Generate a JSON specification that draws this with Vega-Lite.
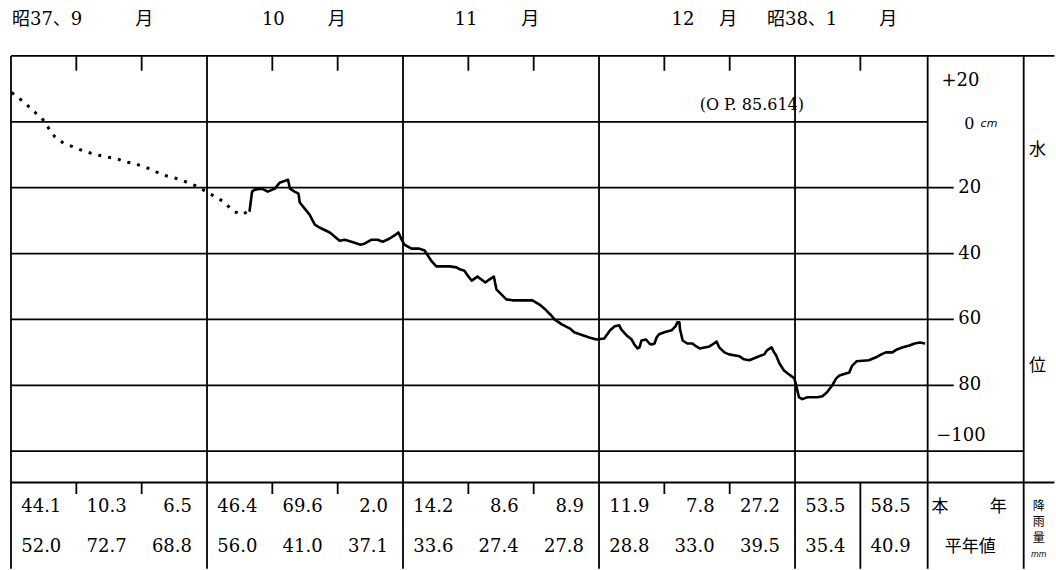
{
  "$schema": "https://vega.github.io/schema/vega-lite/v6.json",
  "width": 1056,
  "height": 570,
  "padding": 0,
  "autosize": {"type": "fit", "contains": "padding"},
  "background": "white",
  "config": {"view": {"stroke": null}},
  "datasets": {
    "hlines": [
      {"t": 0, "t2": 159.7, "v": -20},
      {"t": 0, "t2": 140.3, "v": 0},
      {"t": 0, "t2": 144.3, "v": 20},
      {"t": 0, "t2": 144.3, "v": 40},
      {"t": 0, "t2": 144.3, "v": 60},
      {"t": 0, "t2": 144.3, "v": 80},
      {"t": 0, "t2": 155, "v": 100},
      {"t": 0, "t2": 159.7, "v": 109.5}
    ],
    "vlines": [
      {"t": 0, "v": -20, "v2": 135.7},
      {"t": 30, "v": -20, "v2": 135.7},
      {"t": 60, "v": -20, "v2": 135.7},
      {"t": 90, "v": -20, "v2": 135.7},
      {"t": 120, "v": -20, "v2": 135.7},
      {"t": 140.3, "v": -20, "v2": 135.7},
      {"t": 155, "v": -20, "v2": 135.7},
      {"t": 130, "v": 109.5, "v2": 135.7}
    ],
    "ticks": [
      {"t": 10, "v": -20, "v2": -15.5},
      {"t": 20, "v": -20, "v2": -15.5},
      {"t": 40, "v": -20, "v2": -15.5},
      {"t": 50, "v": -20, "v2": -15.5},
      {"t": 70, "v": -20, "v2": -15.5},
      {"t": 80, "v": -20, "v2": -15.5},
      {"t": 100, "v": -20, "v2": -15.5},
      {"t": 110, "v": -20, "v2": -15.5},
      {"t": 130, "v": -20, "v2": -15.5},
      {"t": 10, "v": 109.5, "v2": 113},
      {"t": 20, "v": 109.5, "v2": 113},
      {"t": 40, "v": 109.5, "v2": 113},
      {"t": 50, "v": 109.5, "v2": 113},
      {"t": 70, "v": 109.5, "v2": 113},
      {"t": 80, "v": 109.5, "v2": 113},
      {"t": 100, "v": 109.5, "v2": 113},
      {"t": 110, "v": 109.5, "v2": 113}
    ],
    "dotted": [
      {"t": 0.1, "v": -8.9}, {"t": 2.1, "v": -5.8}, {"t": 3.4, "v": -3.3}, {"t": 4.7, "v": -1.2},
      {"t": 5.7, "v": 1.8}, {"t": 6.7, "v": 4.5}, {"t": 8.0, "v": 6.4}, {"t": 9.5, "v": 7.6},
      {"t": 11.0, "v": 8.8}, {"t": 12.5, "v": 9.7}, {"t": 14.4, "v": 10.6}, {"t": 16.2, "v": 11.2},
      {"t": 17.4, "v": 12.1}, {"t": 19.0, "v": 12.7}, {"t": 20.2, "v": 13.6}, {"t": 21.6, "v": 14.5},
      {"t": 22.8, "v": 15.8}, {"t": 24.3, "v": 16.7}, {"t": 25.5, "v": 17.3}, {"t": 27.1, "v": 18.5},
      {"t": 28.6, "v": 19.7}, {"t": 30.1, "v": 21.5}, {"t": 31.5, "v": 23.0}, {"t": 32.7, "v": 24.5},
      {"t": 33.9, "v": 27.0}, {"t": 35.3, "v": 28.2}, {"t": 36.2, "v": 27.3}
    ],
    "level": [
      {"t": 36.5, "v": 27.3}, {"t": 36.9, "v": 21.2}, {"t": 37.3, "v": 20.6}, {"t": 38.4, "v": 20.3},
      {"t": 39.3, "v": 21.2}, {"t": 40.4, "v": 20.3}, {"t": 41.1, "v": 18.5}, {"t": 42.4, "v": 17.6},
      {"t": 42.7, "v": 20.3}, {"t": 43.4, "v": 21.2}, {"t": 44.0, "v": 21.8}, {"t": 44.2, "v": 24.5},
      {"t": 45.7, "v": 28.2}, {"t": 46.5, "v": 31.2}, {"t": 47.2, "v": 32.1}, {"t": 48.8, "v": 33.6},
      {"t": 50.3, "v": 36.1}, {"t": 51.1, "v": 35.8}, {"t": 52.6, "v": 36.7}, {"t": 53.4, "v": 37.3},
      {"t": 54.1, "v": 37.0}, {"t": 55.2, "v": 35.8}, {"t": 56.1, "v": 35.8}, {"t": 56.9, "v": 36.4},
      {"t": 57.9, "v": 35.5}, {"t": 58.7, "v": 34.5}, {"t": 59.3, "v": 33.6}, {"t": 59.8, "v": 35.8},
      {"t": 60.2, "v": 37.3}, {"t": 61.3, "v": 38.5}, {"t": 62.5, "v": 38.5}, {"t": 63.3, "v": 39.1},
      {"t": 63.8, "v": 40.6}, {"t": 64.4, "v": 42.4}, {"t": 65.1, "v": 43.9}, {"t": 67.1, "v": 43.9},
      {"t": 68.2, "v": 44.2}, {"t": 68.7, "v": 44.8}, {"t": 69.4, "v": 45.2}, {"t": 69.9, "v": 46.7},
      {"t": 70.5, "v": 48.2}, {"t": 71.4, "v": 47.0}, {"t": 72.0, "v": 47.9}, {"t": 72.6, "v": 48.8},
      {"t": 73.2, "v": 47.9}, {"t": 73.9, "v": 47.0}, {"t": 74.3, "v": 50.9}, {"t": 75.2, "v": 52.7},
      {"t": 75.8, "v": 53.9}, {"t": 76.8, "v": 54.2}, {"t": 79.8, "v": 54.2}, {"t": 80.9, "v": 55.5},
      {"t": 81.8, "v": 57.0}, {"t": 82.7, "v": 58.8}, {"t": 83.2, "v": 60.0}, {"t": 84.3, "v": 61.5},
      {"t": 85.5, "v": 62.7}, {"t": 86.2, "v": 63.9}, {"t": 87.5, "v": 64.8}, {"t": 88.5, "v": 65.5},
      {"t": 89.6, "v": 66.1}, {"t": 90.8, "v": 65.8}, {"t": 91.7, "v": 63.3}, {"t": 92.4, "v": 62.1},
      {"t": 93.1, "v": 61.8}, {"t": 93.4, "v": 63.0}, {"t": 94.2, "v": 64.8}, {"t": 95.0, "v": 66.1},
      {"t": 95.4, "v": 67.6}, {"t": 95.9, "v": 68.8}, {"t": 96.2, "v": 68.5}, {"t": 96.5, "v": 66.4},
      {"t": 97.2, "v": 66.1}, {"t": 97.7, "v": 67.3}, {"t": 98.0, "v": 67.6}, {"t": 98.5, "v": 67.3},
      {"t": 98.8, "v": 65.5}, {"t": 99.2, "v": 64.5}, {"t": 100.0, "v": 63.9}, {"t": 101.1, "v": 63.3},
      {"t": 101.7, "v": 62.1}, {"t": 102.0, "v": 60.9}, {"t": 102.3, "v": 60.9}, {"t": 102.4, "v": 63.0},
      {"t": 102.8, "v": 66.4}, {"t": 103.5, "v": 67.3}, {"t": 104.3, "v": 67.3}, {"t": 104.9, "v": 68.2},
      {"t": 105.4, "v": 68.8}, {"t": 106.9, "v": 68.2}, {"t": 107.6, "v": 67.3}, {"t": 108.0, "v": 66.7},
      {"t": 108.4, "v": 68.5}, {"t": 109.2, "v": 70.0}, {"t": 109.9, "v": 70.6}, {"t": 111.5, "v": 71.2},
      {"t": 112.2, "v": 72.1}, {"t": 113.0, "v": 72.4}, {"t": 114.5, "v": 71.2}, {"t": 115.3, "v": 70.6},
      {"t": 115.7, "v": 69.4}, {"t": 116.4, "v": 68.5}, {"t": 116.8, "v": 70.0}, {"t": 117.1, "v": 70.9},
      {"t": 117.6, "v": 73.3}, {"t": 118.3, "v": 75.5}, {"t": 119.1, "v": 76.7}, {"t": 119.9, "v": 77.9},
      {"t": 120.2, "v": 80.3}, {"t": 120.6, "v": 83.6}, {"t": 121.1, "v": 84.2}, {"t": 121.9, "v": 83.6},
      {"t": 123.4, "v": 83.6}, {"t": 124.2, "v": 83.3}, {"t": 124.9, "v": 82.1}, {"t": 125.7, "v": 80.0},
      {"t": 126.3, "v": 77.9}, {"t": 126.8, "v": 77.0}, {"t": 128.3, "v": 76.1}, {"t": 128.7, "v": 74.2},
      {"t": 129.4, "v": 72.7}, {"t": 131.3, "v": 72.4}, {"t": 132.4, "v": 71.5}, {"t": 133.2, "v": 70.6},
      {"t": 133.9, "v": 70.0}, {"t": 134.9, "v": 70.0}, {"t": 135.6, "v": 69.1}, {"t": 136.4, "v": 68.5},
      {"t": 137.5, "v": 67.9}, {"t": 138.3, "v": 67.3}, {"t": 139.1, "v": 67.0}, {"t": 139.9, "v": 67.3}
    ],
    "top": [
      {"t": 0.15, "v": -30.9, "text": "昭37、9"},
      {"t": 19.0, "v": -30.9, "text": "月"},
      {"t": 38.4, "v": -30.9, "text": "10"},
      {"t": 48.5, "v": -30.9, "text": "月"},
      {"t": 67.9, "v": -30.9, "text": "11"},
      {"t": 78.1, "v": -30.9, "text": "月"},
      {"t": 101.1, "v": -30.9, "text": "12"},
      {"t": 108.4, "v": -30.9, "text": "月"},
      {"t": 115.7, "v": -30.9, "text": "昭38、1"},
      {"t": 132.9, "v": -30.9, "text": "月"}
    ],
    "ylab": [
      {"t": 142.4, "v": -12.5, "label": "+20"},
      {"t": 145.0, "v": 20, "label": "20"},
      {"t": 145.0, "v": 40, "label": "40"},
      {"t": 145.0, "v": 60, "label": "60"},
      {"t": 145.0, "v": 80, "label": "80"},
      {"t": 141.6, "v": 95.5, "label": "−100"}
    ],
    "rain": [
      {"t": 10, "month": "9月", "this_year": 44.1, "normal": 52.0},
      {"t": 20, "month": "9月", "this_year": 10.3, "normal": 72.7},
      {"t": 30, "month": "9月", "this_year": 6.5, "normal": 68.8},
      {"t": 40, "month": "10月", "this_year": 46.4, "normal": 56.0},
      {"t": 50, "month": "10月", "this_year": 69.6, "normal": 41.0},
      {"t": 60, "month": "10月", "this_year": 2.0, "normal": 37.1},
      {"t": 70, "month": "11月", "this_year": 14.2, "normal": 33.6},
      {"t": 80, "month": "11月", "this_year": 8.6, "normal": 27.4},
      {"t": 90, "month": "11月", "this_year": 8.9, "normal": 27.8},
      {"t": 100, "month": "12月", "this_year": 11.9, "normal": 28.8},
      {"t": 110, "month": "12月", "this_year": 7.8, "normal": 33.0},
      {"t": 120, "month": "12月", "this_year": 27.2, "normal": 39.5},
      {"t": 130, "month": "1月", "this_year": 53.5, "normal": 35.4},
      {"t": 140, "month": "1月", "this_year": 58.5, "normal": 40.9}
    ],
    "side": [
      {"t": 142.2, "v": 117, "text": "本"},
      {"t": 151.1, "v": 117, "text": "年"},
      {"t": 146.8, "v": 129.1, "text": "平年値"},
      {"t": 157.1, "v": 8.5, "text": "水"},
      {"t": 157.1, "v": 74, "text": "位"}
    ],
    "notes": [
      {"t": 145.9, "v": 0.6, "text": "0"},
      {"t": 105.4, "v": -5.2, "text": "(O P.  85.614)"}
    ]
  },
  "layer": [
    {
      "data": {"name": "hlines"},
      "mark": {"type": "rule", "stroke": "black", "strokeWidth": 1.8},
      "encoding": {
        "x": {"field": "t", "type": "quantitative", "axis": null, "scale": {"domain": [-1.682, 159.79], "nice": false, "zero": false}},
        "x2": {"field": "t2"},
        "y": {"field": "v", "type": "quantitative", "axis": null, "scale": {"domain": [-36.97, 135.76], "nice": false, "zero": false, "reverse": true}}
      }
    },
    {
      "data": {"name": "vlines"},
      "mark": {"type": "rule", "stroke": "black", "strokeWidth": 1.8},
      "encoding": {
        "x": {"field": "t", "type": "quantitative", "axis": null, "scale": {"domain": [-1.682, 159.79], "nice": false, "zero": false}},
        "y": {"field": "v", "type": "quantitative", "axis": null, "scale": {"domain": [-36.97, 135.76], "nice": false, "zero": false, "reverse": true}},
        "y2": {"field": "v2"}
      }
    },
    {
      "data": {"name": "ticks"},
      "mark": {"type": "rule", "stroke": "black", "strokeWidth": 1.8},
      "encoding": {
        "x": {"field": "t", "type": "quantitative", "axis": null, "scale": {"domain": [-1.682, 159.79], "nice": false, "zero": false}},
        "y": {"field": "v", "type": "quantitative", "axis": null, "scale": {"domain": [-36.97, 135.76], "nice": false, "zero": false, "reverse": true}},
        "y2": {"field": "v2"}
      }
    },
    {
      "data": {"name": "dotted"},
      "mark": {"type": "line", "stroke": "black", "strokeWidth": 3, "strokeDash": [3, 7], "strokeCap": "butt"},
      "encoding": {
        "x": {"field": "t", "type": "quantitative", "axis": null, "scale": {"domain": [-1.682, 159.79], "nice": false, "zero": false}},
        "y": {"field": "v", "type": "quantitative", "axis": null, "scale": {"domain": [-36.97, 135.76], "nice": false, "zero": false, "reverse": true}}
      }
    },
    {
      "data": {"name": "level"},
      "mark": {"type": "line", "stroke": "black", "strokeWidth": 2.6, "strokeJoin": "round"},
      "encoding": {
        "x": {"field": "t", "type": "quantitative", "axis": null, "scale": {"domain": [-1.682, 159.79], "nice": false, "zero": false}},
        "y": {"field": "v", "type": "quantitative", "axis": null, "scale": {"domain": [-36.97, 135.76], "nice": false, "zero": false, "reverse": true}}
      }
    },
    {
      "data": {"name": "top"},
      "mark": {"type": "text", "align": "left", "baseline": "middle", "font": "DejaVu Serif, Noto Sans CJK JP", "fontSize": 18, "fill": "black"},
      "encoding": {
        "x": {"field": "t", "type": "quantitative", "axis": null, "scale": {"domain": [-1.682, 159.79], "nice": false, "zero": false}},
        "y": {"field": "v", "type": "quantitative", "axis": null, "scale": {"domain": [-36.97, 135.76], "nice": false, "zero": false, "reverse": true}},
        "text": {"field": "text"}
      }
    },
    {
      "data": {"name": "ylab"},
      "mark": {"type": "text", "align": "left", "baseline": "middle", "font": "DejaVu Serif", "fontSize": 18, "fill": "black"},
      "encoding": {
        "x": {"field": "t", "type": "quantitative", "axis": null, "scale": {"domain": [-1.682, 159.79], "nice": false, "zero": false}},
        "y": {"field": "v", "type": "quantitative", "axis": null, "scale": {"domain": [-36.97, 135.76], "nice": false, "zero": false, "reverse": true}},
        "text": {"field": "label"}
      }
    },
    {
      "data": {"name": "notes"},
      "mark": {"type": "text", "align": "left", "baseline": "middle", "font": "DejaVu Serif", "fontSize": 16, "fill": "black"},
      "encoding": {
        "x": {"field": "t", "type": "quantitative", "axis": null, "scale": {"domain": [-1.682, 159.79], "nice": false, "zero": false}},
        "y": {"field": "v", "type": "quantitative", "axis": null, "scale": {"domain": [-36.97, 135.76], "nice": false, "zero": false, "reverse": true}},
        "text": {"field": "text"}
      }
    },
    {
      "data": {"values": [{"t": 148.4, "v": 0.8, "text": "cm"}]},
      "mark": {"type": "text", "align": "left", "baseline": "middle", "font": "DejaVu Sans", "fontStyle": "italic", "fontSize": 11, "fill": "black"},
      "encoding": {
        "x": {"field": "t", "type": "quantitative", "axis": null, "scale": {"domain": [-1.682, 159.79], "nice": false, "zero": false}},
        "y": {"field": "v", "type": "quantitative", "axis": null, "scale": {"domain": [-36.97, 135.76], "nice": false, "zero": false, "reverse": true}},
        "text": {"field": "text"}
      }
    },
    {
      "data": {"values": [{"t": 157.3, "v": 131.6, "text": "mm"}]},
      "mark": {"type": "text", "align": "center", "baseline": "middle", "font": "DejaVu Sans", "fontStyle": "italic", "fontSize": 8, "fill": "black"},
      "encoding": {
        "x": {"field": "t", "type": "quantitative", "axis": null, "scale": {"domain": [-1.682, 159.79], "nice": false, "zero": false}},
        "y": {"field": "v", "type": "quantitative", "axis": null, "scale": {"domain": [-36.97, 135.76], "nice": false, "zero": false, "reverse": true}},
        "text": {"field": "text"}
      }
    },
    {
      "data": {"name": "rain"},
      "mark": {"type": "text", "align": "right", "baseline": "middle", "font": "DejaVu Serif", "fontSize": 18, "fill": "black", "dx": -15, "dy": 0},
      "encoding": {
        "x": {"field": "t", "type": "quantitative", "axis": null, "scale": {"domain": [-1.682, 159.79], "nice": false, "zero": false}},
        "y": {"datum": 117, "type": "quantitative", "axis": null, "scale": {"domain": [-36.97, 135.76], "nice": false, "zero": false, "reverse": true}},
        "text": {"field": "this_year", "type": "quantitative", "format": ".1f"}
      }
    },
    {
      "data": {"name": "rain"},
      "mark": {"type": "text", "align": "right", "baseline": "middle", "font": "DejaVu Serif", "fontSize": 18, "fill": "black", "dx": -15},
      "encoding": {
        "x": {"field": "t", "type": "quantitative", "axis": null, "scale": {"domain": [-1.682, 159.79], "nice": false, "zero": false}},
        "y": {"datum": 129.1, "type": "quantitative", "axis": null, "scale": {"domain": [-36.97, 135.76], "nice": false, "zero": false, "reverse": true}},
        "text": {"field": "normal", "type": "quantitative", "format": ".1f"}
      }
    },
    {
      "data": {"name": "side"},
      "mark": {"type": "text", "align": "center", "baseline": "middle", "font": "Noto Sans CJK JP", "fontSize": 17, "fill": "black"},
      "encoding": {
        "x": {"field": "t", "type": "quantitative", "axis": null, "scale": {"domain": [-1.682, 159.79], "nice": false, "zero": false}},
        "y": {"field": "v", "type": "quantitative", "axis": null, "scale": {"domain": [-36.97, 135.76], "nice": false, "zero": false, "reverse": true}},
        "text": {"field": "text"}
      }
    },
    {
      "data": {"values": [{"t": 157.3, "v": 116.6, "text": "降"}, {"t": 157.3, "v": 121.5, "text": "雨"}, {"t": 157.3, "v": 126.4, "text": "量"}]},
      "mark": {"type": "text", "align": "center", "baseline": "middle", "font": "Noto Sans CJK JP", "fontSize": 12, "fill": "black"},
      "encoding": {
        "x": {"field": "t", "type": "quantitative", "axis": null, "scale": {"domain": [-1.682, 159.79], "nice": false, "zero": false}},
        "y": {"field": "v", "type": "quantitative", "axis": null, "scale": {"domain": [-36.97, 135.76], "nice": false, "zero": false, "reverse": true}},
        "text": {"field": "text"}
      }
    }
  ]
}
